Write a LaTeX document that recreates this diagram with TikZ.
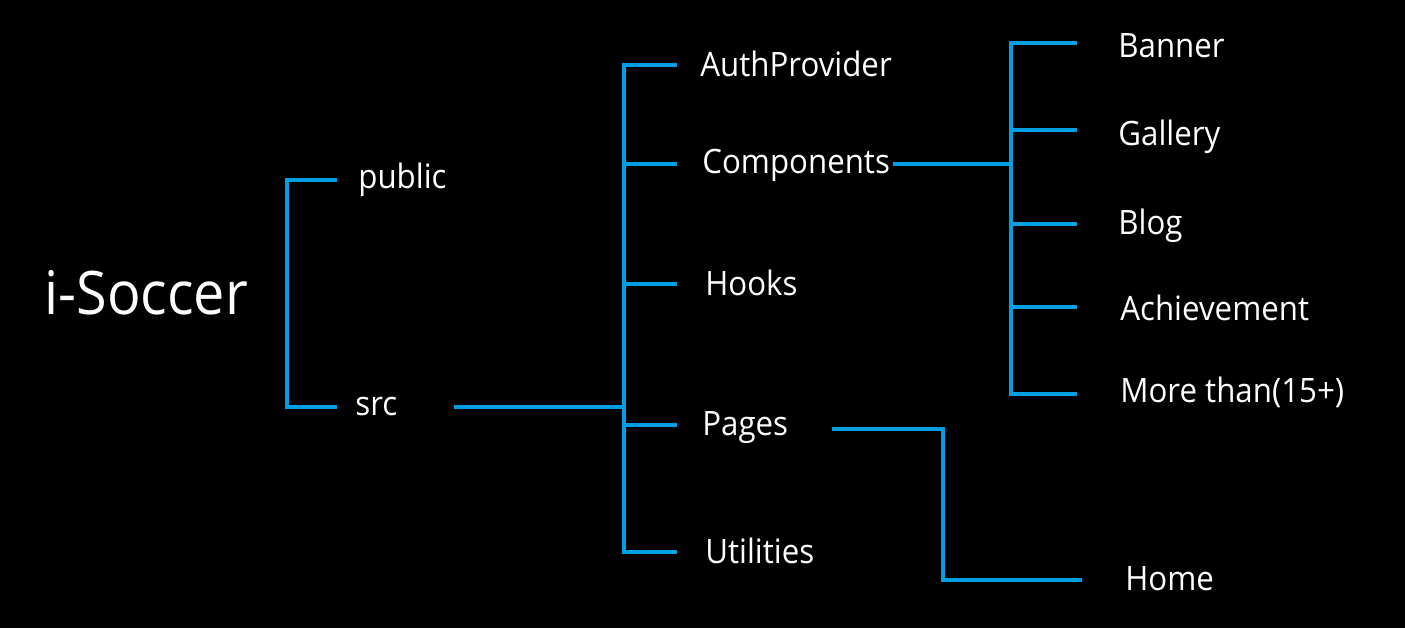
\documentclass[tikz,border=0pt]{standalone}
\usepackage{fontspec}
\setmainfont[FakeStretch=0.93]{Open Sans}
\definecolor{treeblue}{RGB}{0,158,226}
\newcommand{\lblfont}{\fontsize{16.8}{20}\selectfont}
\newcommand{\rootfont}{\fontsize{30}{36}\selectfont}
\tikzset{
    branch/.style={draw=treeblue, line width=2.3pt},
    lbl/.style={text=white, font=\lblfont, anchor=base west, inner sep=0pt}
}
\begin{document}
\begin{tikzpicture}[x=0.5pt, y=-0.5pt]
            \fill[black] (0, 0) rectangle (1405, 628);

            \node[lbl, font=\rootfont] (root) at (44, 314) {i-Soccer};

            \node[lbl] (public) at (358, 188) {public};
            \node[lbl] (src) at (355, 415) {src};

            \node[lbl] (auth) at (700, 76) {AuthProvider};
            \node[lbl] (components) at (702, 173) {Components};
            \node[lbl] (hooks) at (705, 295) {Hooks};
            \node[lbl] (pages) at (702, 435) {Pages};
            \node[lbl] (utilities) at (705, 563) {Utilities};

            \node[lbl] (banner) at (1118, 57) {Banner};
            \node[lbl] (gallery) at (1118, 145) {Gallery};
            \node[lbl] (blog) at (1118, 234) {Blog};
            \node[lbl] (achievement) at (1120, 320) {Achievement};
            \node[lbl] (more) at (1120, 402) {More than(15+)};

            \node[lbl] (home) at (1125, 590) {Home};

            \coordinate (publicT) at (337, 180);
            \coordinate (srcT) at (337, 407);
            \draw[branch] (publicT) -- (287, 180) |- (srcT);

            \coordinate (srcR) at (454, 407);
            \coordinate (authT) at (677, 65);
            \coordinate (componentsT) at (677, 164);
            \coordinate (hooksT) at (677, 284);
            \coordinate (pagesT) at (677, 425);
            \coordinate (utilitiesT) at (677, 552);
            \draw[branch] (srcR) -- (624, 407);
            \draw[branch] (authT) -- (624, 65) |- (utilitiesT);
            \draw[branch] (624, 164) -- (componentsT);
            \draw[branch] (624, 284) -- (hooksT);
            \draw[branch] (624, 425) -- (pagesT);

            \coordinate (componentsR) at (893, 164);
            \coordinate (bannerT) at (1077, 43);
            \coordinate (galleryT) at (1077, 130);
            \coordinate (blogT) at (1077, 224);
            \coordinate (achievementT) at (1077, 307);
            \coordinate (moreT) at (1077, 394);
            \draw[branch] (componentsR) -- (1011, 164);
            \draw[branch] (bannerT) -- (1011, 43) |- (moreT);
            \draw[branch] (1011, 130) -- (galleryT);
            \draw[branch] (1011, 224) -- (blogT);
            \draw[branch] (1011, 307) -- (achievementT);

            \coordinate (pagesR) at (832, 429);
            \coordinate (homeT) at (1082, 580);
            \draw[branch] (pagesR) -| (943, 580) -- (homeT);
\end{tikzpicture}
\end{document}
